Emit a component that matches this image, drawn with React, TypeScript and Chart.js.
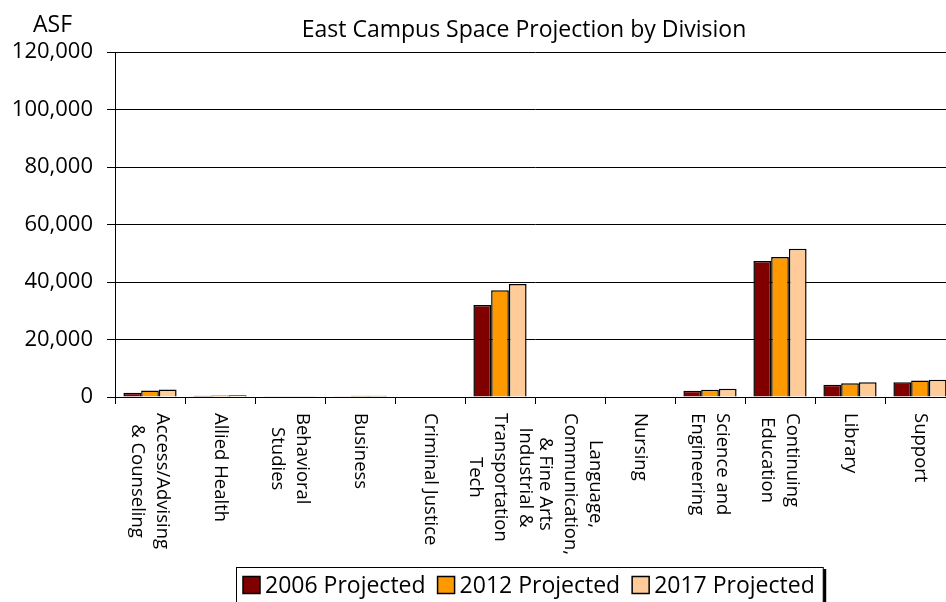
import React, { useEffect, useRef } from "react";
import { Chart, registerables } from "chart.js";

Chart.register(...registerables);

const categories: (string | string[])[] = [
  ["Access/Advising", "& Counseling"],
  "Allied Health",
  ["Behavioral", "Studies"],
  "Business",
  "Criminal Justice",
  ["Industrial &", "Transportation", "Tech"],
  ["Language,", "Communication,", "& Fine Arts"],
  "Nursing",
  ["Science and", "Engineering"],
  ["Continuing", "Education"],
  "Library",
  "Support",
];

const projected2006 = [1500, 400, 100, 300, 0, 32000, 0, 200, 2200, 47300, 4300, 5100];
const projected2012 = [2300, 500, 100, 400, 0, 37100, 0, 200, 2500, 48700, 4800, 5700];
const projected2017 = [2600, 600, 100, 400, 0, 39300, 0, 200, 2900, 51600, 5100, 6000];

const seriesNames = ["2006 Projected", "2012 Projected", "2017 Projected"];
const seriesColors = ["#800000", "#FF9900", "#FFCC99"];

const yTicks = [0, 20000, 40000, 60000, 80000, 100000, 120000];

const titleText = "East Campus Space Projection by Division";
const yUnitText = "ASF";

const FONT = "'Open Sans', sans-serif";

const textPlugin = {
  id: "customText",
  afterDraw(chart: any) {
    const ctx = chart.ctx as CanvasRenderingContext2D;
    const xScale = chart.scales.x;
    ctx.save();
    ctx.fillStyle = "#000";
    // title
    ctx.font = `23px ${FONT}`;
    ctx.textAlign = "center";
    ctx.textBaseline = "alphabetic";
    ctx.fillText(titleText, 524, 37);
    // unit
    ctx.textAlign = "left";
    ctx.fillText(yUnitText, 33, 32);

    // x labels rotated clockwise
    ctx.font = `18.5px ${FONT}`;
    const lh = 25;
    categories.forEach((lab, i) => {
      const lines = Array.isArray(lab) ? lab : [lab];
      const x = xScale.getPixelForValue(i);
      let maxW = 0;
      lines.forEach((l) => {
        maxW = Math.max(maxW, ctx.measureText(l).width);
      });
      ctx.save();
      ctx.translate(x, 413 + maxW / 2);
      ctx.rotate(Math.PI / 2);
      ctx.textAlign = "center";
      ctx.textBaseline = "middle";
      lines.forEach((l, j) => {
        const ly = (j - (lines.length - 1) / 2) * lh;
        ctx.fillText(l, 0, ly);
      });
      ctx.restore();
    });

    // legend
    ctx.font = `23px ${FONT}`;
    ctx.textAlign = "left";
    ctx.textBaseline = "middle";
    let lx = 243;
    const ly = 585;
    seriesNames.forEach((name, i) => {
      ctx.fillStyle = seriesColors[i];
      ctx.fillRect(lx, ly - 8.5, 17, 17);
      ctx.strokeStyle = "#000";
      ctx.lineWidth = 1.5;
      ctx.strokeRect(lx, ly - 8.5, 17, 17);
      ctx.fillStyle = "#000";
      ctx.fillText(name, lx + 22, ly + 1);
      lx += 22 + ctx.measureText(name).width + 12;
    });
    const right = lx - 4;
    ctx.strokeStyle = "#000";
    ctx.lineWidth = 1;
    ctx.strokeRect(236.5, 567.5, right - 236, 50);
    ctx.fillRect(right + 0.5, 569, 3, 40);
    ctx.restore();
  },
};

export default function App() {
  const canvasRef = useRef<HTMLCanvasElement>(null);

  useEffect(() => {
    if (!canvasRef.current) return;
    const chart = new Chart(canvasRef.current, {
      type: "bar",
      data: {
        labels: categories.map((c) => (Array.isArray(c) ? c.join(" ") : c)),
        datasets: [projected2006, projected2012, projected2017].map((d, i) => ({
          label: seriesNames[i],
          data: d,
          backgroundColor: seriesColors[i],
          borderColor: "#000",
          borderWidth: 1.5,
          categoryPercentage: 0.76,
          barPercentage: 1.0,
        })),
      },
      options: {
        responsive: false,
        animation: false,
        layout: { padding: { top: 52, right: 5, left: 0, bottom: 0 } },
        plugins: {
          legend: { display: false },
          title: { display: false },
          tooltip: { enabled: false },
        },
        scales: {
          x: {
            afterFit: (s: any) => {
              s.height = 205;
            },
            ticks: { display: false },
            grid: {
              display: true,
              offset: true,
              drawOnChartArea: false,
              tickLength: 7,
              color: "#000",
            },
            border: { color: "#000", width: 1 },
          },
          y: {
            min: 0,
            max: 120000,
            afterFit: (s: any) => {
              s.width = 115;
            },
            afterBuildTicks: (s: any) => {
              s.ticks = yTicks.map((v) => ({ value: v }));
            },
            ticks: {
              padding: 14,
              color: "#000",
              font: { family: FONT, size: 22 },
              callback: (v: any) => Number(v).toLocaleString("en-US"),
            },
            grid: { color: "#000", tickLength: 8, lineWidth: 1 },
            border: { color: "#000", width: 1 },
          },
        },
      },
      plugins: [textPlugin],
    });
    return () => chart.destroy();
  }, []);

  return (
    <div
      style={{
        position: "fixed",
        left: 0,
        top: 0,
        width: 946,
        height: 602,
        overflow: "hidden",
        background: "#fff",
      }}
    >
      <canvas ref={canvasRef} width={960} height={602} style={{ width: 960, height: 602, display: "block" }} />
    </div>
  );
}
